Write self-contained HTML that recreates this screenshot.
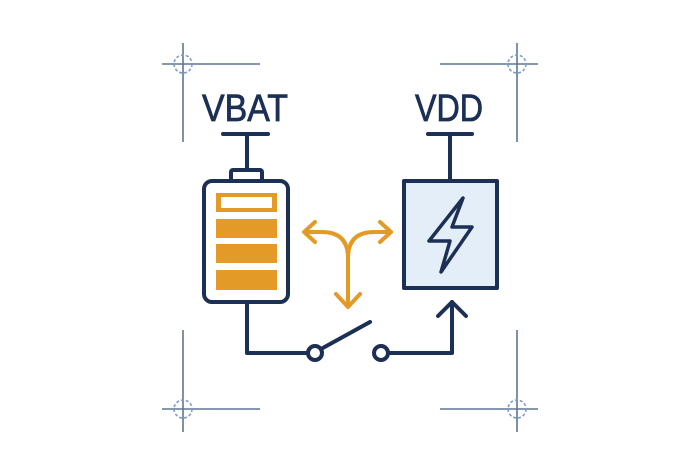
<!DOCTYPE html>
<html><head><style>html,body{margin:0;padding:0;background:#fff}svg{display:block}</style></head>
<body>
<svg width="684" height="456" viewBox="0 0 684 456" xmlns="http://www.w3.org/2000/svg">
<rect width="684" height="456" fill="#fff"/>
<g stroke="#5f7594" stroke-width="1.6" fill="none">
<line x1="183" y1="43" x2="183" y2="142"/><line x1="162" y1="64" x2="260" y2="64"/>
<line x1="517" y1="43" x2="517" y2="142"/><line x1="440" y1="64" x2="538" y2="64"/>
<line x1="183" y1="330" x2="183" y2="432"/><line x1="162" y1="409" x2="260" y2="409"/>
<line x1="517" y1="330" x2="517" y2="432"/><line x1="440" y1="409" x2="538" y2="409"/>
<g stroke-dasharray="3 2" stroke="#7f9cc4"><circle cx="183" cy="64" r="9"/><circle cx="517" cy="64" r="9"/><circle cx="183" cy="409" r="9"/><circle cx="517" cy="409" r="9"/></g>
</g>
<g font-family="Liberation Sans, sans-serif" font-size="38" fill="#1c2f55" stroke="#1c2f55" stroke-width="0.8">
<text x="202" y="121" textLength="86" lengthAdjust="spacingAndGlyphs">VBAT</text>
<text x="415" y="121" textLength="68" lengthAdjust="spacingAndGlyphs">VDD</text>
</g>
<g stroke="#1c2f55" stroke-width="4" fill="none" stroke-linecap="round" stroke-linejoin="round">
<line x1="223" y1="134" x2="268" y2="134"/><line x1="247" y1="134" x2="247" y2="170"/>
<rect x="231" y="170" width="31" height="11" rx="2"/>
<rect x="204" y="181" width="84" height="121" rx="8"/>
<line x1="428" y1="134" x2="472" y2="134"/><line x1="450" y1="134" x2="450" y2="180"/>
<rect x="404" y="181" width="93" height="107" fill="#e4eef8"/>
<path d="M247 302 V353 H308"/>
<circle cx="315" cy="353" r="7"/><line x1="321" y1="349" x2="370" y2="322"/>
<circle cx="381" cy="353" r="7"/><path d="M388 353 H452 V302"/>
<path d="M438 316 L452 302 L466 316"/>
<path d="M463 198 L429 241 L450 241 L441 272 L472 227 L452 227 Z" stroke-width="3.5"/>
</g>
<g fill="#e39a26">
<rect x="216" y="193" width="61" height="19"/>
<rect x="216" y="219" width="61" height="19"/>
<rect x="216" y="244" width="61" height="19"/>
<rect x="216" y="270" width="61" height="20"/>
</g>
<rect x="221" y="197" width="51" height="11" fill="#fff"/>
<g stroke="#e39a26" stroke-width="4" fill="none" stroke-linecap="round" stroke-linejoin="round">
<path d="M348 305 V258 Q348 232 322 232 H305"/>
<path d="M348 258 Q348 232 374 232 H389"/>
<path d="M315 222 L304 232 L315 242"/>
<path d="M380 222 L391 232 L380 242"/>
<path d="M336 294 L348 307 L360 294"/>
</g>
</svg>
</body></html>
